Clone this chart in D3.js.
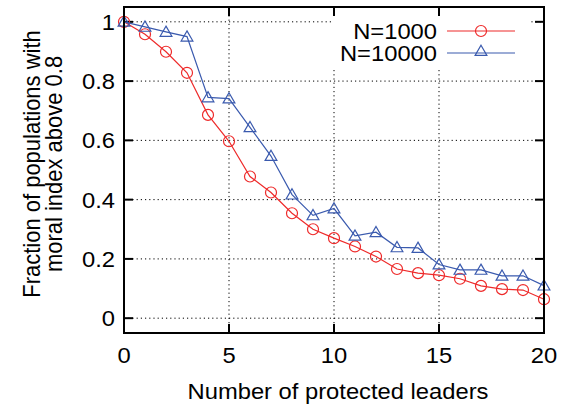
<!DOCTYPE html>
<html><head><meta charset="utf-8">
<script src="https://cdn.jsdelivr.net/npm/d3@7"></script>
<style>body{margin:0;background:#fff}svg{display:block}text{font-family:"Liberation Sans",Arial,sans-serif;fill:#000}</style>
</head><body><svg id="c" width="566" height="406"></svg>
<script>
const leaders = d3.range(0, 21);
const n1000 = [1.0,0.958,0.899,0.828,0.686,0.597,0.478,0.424,0.354,0.300,0.270,0.242,0.208,0.166,0.152,0.145,0.133,0.109,0.098,0.095,0.064];
const n10000 = [1.0,0.983,0.966,0.950,0.745,0.741,0.644,0.547,0.417,0.347,0.370,0.278,0.290,0.239,0.237,0.181,0.163,0.163,0.143,0.143,0.110];
const xTicks = [0,5,10,15,20];
const yTicks = [0,0.2,0.4,0.6,0.8,1];
const seriesNames = ["N=1000","N=10000"];

const svg = d3.select("#c");
const L=124, R=544, T=7, B=333;
const x = d3.scaleLinear().domain([0,20]).range([L,R]);
const y = d3.scaleLinear().domain([-0.05,1.05]).range([B,T]);
const FS = 22, SX = 1.08;

// grid
const g = svg.append("g");
g.selectAll(".gx").data(xTicks).enter().append("line")
 .attr("x1",d=>x(d)).attr("x2",d=>x(d)).attr("y1",T).attr("y2",B)
 .attr("stroke","#000").attr("stroke-width",1).attr("stroke-dasharray","1.2,3");
g.selectAll(".gy").data(yTicks).enter().append("line")
 .attr("x1",L).attr("x2",R).attr("y1",d=>y(d)).attr("y2",d=>y(d))
 .attr("stroke","#000").attr("stroke-width",1).attr("stroke-dasharray","1.2,3");

// legend background
svg.append("rect").attr("x",333).attr("y",T+1).attr("width",197).attr("height",59).attr("fill","#fff");

// axes ticks (inward on all sides)
const tk=9;
const ax = svg.append("g").attr("stroke","#000").attr("stroke-width",2);
xTicks.forEach(d=>{
  ax.append("line").attr("x1",x(d)).attr("x2",x(d)).attr("y1",B).attr("y2",B-tk);
  ax.append("line").attr("x1",x(d)).attr("x2",x(d)).attr("y1",T).attr("y2",T+tk);
});
yTicks.forEach(d=>{
  ax.append("line").attr("x1",L).attr("x2",L+tk).attr("y1",y(d)).attr("y2",y(d));
  ax.append("line").attr("x1",R).attr("x2",R-tk).attr("y1",y(d)).attr("y2",y(d));
});

function htext(px, py, anchor, str){
  return svg.append("text").attr("transform",`translate(${px},${py}) scale(${SX},1)`)
    .attr("text-anchor",anchor).attr("font-size",FS).text(str);
}
// tick labels
xTicks.forEach(d=>htext(x(d),363,"middle",d));
yTicks.forEach(d=>htext(115,y(d)+8,"end",d3.format("~g")(d)));

// axis titles
htext((L+R)/2+4,399,"middle","Number of protected leaders");
const yl = svg.append("text").attr("transform",`translate(0,164) scale(${SX},1) rotate(-90)`).attr("text-anchor","middle").attr("font-size",FS);
yl.append("tspan").attr("x",0).attr("y",37).text("Fraction of populations with");
yl.append("tspan").attr("x",0).attr("y",57.5).text("moral index above 0.8");

const colors = ["#ee2a2a","#3a5aae"];
const line = d3.line().x((d,i)=>x(leaders[i])).y(d=>y(d));
const tri = d3.symbol().type(d3.symbolTriangle).size(60);

// series 1
svg.append("path").datum(n1000).attr("d",line).attr("fill","none").attr("stroke",colors[0]).attr("stroke-width",1.2);
svg.selectAll(".c1").data(n1000).enter().append("circle")
 .attr("cx",(d,i)=>x(leaders[i])).attr("cy",d=>y(d)).attr("r",5.5)
 .attr("fill","none").attr("stroke",colors[0]).attr("stroke-width",1.2);
// series 2
svg.append("path").datum(n10000).attr("d",line).attr("fill","none").attr("stroke",colors[1]).attr("stroke-width",1.2);
svg.selectAll(".t2").data(n10000).enter().append("path")
 .attr("transform",(d,i)=>`translate(${x(leaders[i])},${y(d)+1})`).attr("d",tri)
 .attr("fill","none").attr("stroke",colors[1]).attr("stroke-width",1.2);

// legend
const ly=[31,53];
seriesNames.forEach((s,i)=>{
  htext(437,ly[i]+7.5,"end",s);
  svg.append("line").attr("x1",447).attr("x2",515).attr("y1",ly[i]).attr("y2",ly[i]).attr("stroke",colors[i]).attr("stroke-width",1.2);
});
svg.append("circle").attr("cx",481).attr("cy",ly[0]).attr("r",5.5).attr("fill","none").attr("stroke",colors[0]).attr("stroke-width",1.2);
svg.append("path").attr("transform",`translate(481,${ly[1]-1})`).attr("d",tri).attr("fill","none").attr("stroke",colors[1]).attr("stroke-width",1.2);

// frame
svg.append("rect").attr("x",L).attr("y",T).attr("width",R-L).attr("height",B-T).attr("fill","none").attr("stroke","#000").attr("stroke-width",2);
</script></body></html>
